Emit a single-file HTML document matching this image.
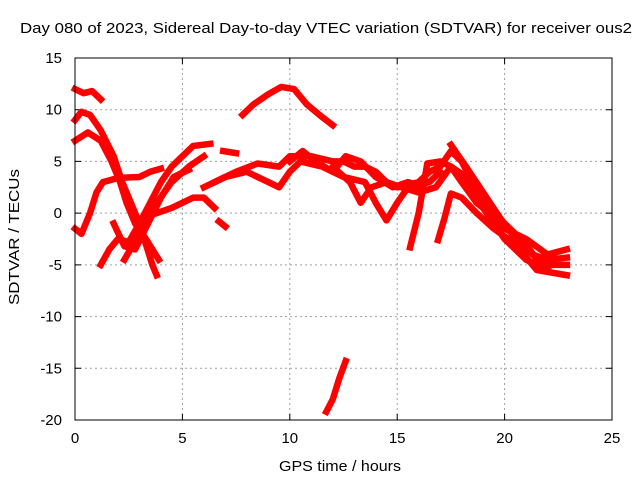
<!DOCTYPE html>
<html><head><meta charset="utf-8"><style>
body{margin:0;background:#fff}
svg{display:block;font-family:"Liberation Sans",sans-serif}
</style></head><body>
<svg id="chart" width="640" height="480" viewBox="0 0 640 480">
<rect width="640" height="480" fill="#fff"/>
<text x="326" y="33" text-anchor="middle" font-size="15" textLength="612" lengthAdjust="spacingAndGlyphs">Day 080 of 2023, Sidereal Day-to-day VTEC variation (SDTVAR) for receiver ous2</text>
<text x="340" y="471" text-anchor="middle" font-size="15" textLength="122" lengthAdjust="spacingAndGlyphs">GPS time / hours</text>
<text transform="translate(19,237) rotate(-90)" text-anchor="middle" font-size="15" textLength="136" lengthAdjust="spacingAndGlyphs">SDTVAR / TECUs</text>
<g id="grid"></g>
<g id="ticks"></g>
<g id="series"></g>
<rect x="75" y="58" width="537" height="362" fill="none" stroke="#000" stroke-width="1"/>
</svg>
<script>
const xTicks=[0,5,10,15,20,25];
const yTicks=[15,10,5,0,-5,-10,-15,-20];
const track1=[[0,12],[0.4,11.6],[0.8,11.8],[1.2,11]];
const track2=[[0,9],[0.3,9.8],[0.7,9.5],[1.2,8],[1.8,5.5],[2.2,3],[2.6,1],[3.0,-1],[3.3,-3],[3.6,-5],[3.8,-6]];
const track3=[[0,7],[0.6,7.8],[1.2,7],[1.7,5],[2.1,3],[2.4,1],[2.8,-1],[3.3,-2.5],[3.9,-4.5]];
const track4=[[0,-1.5],[0.3,-2],[0.7,0],[1,2],[1.3,3],[2,3.4],[3,3.5],[3.5,4],[4,4.3]];
const track5=[[1.2,-5],[1.6,-3.5],[2,-2.5],[2.5,-2.8],[3,-1],[3.5,1],[4,3],[4.5,4.5],[5,5.5],[5.5,6.5],[6.3,6.7]];
const track6=[[2.3,-4.5],[3,-2],[3.8,1],[4.5,3],[5.3,4.5],[6,5.5]];
const track7=[[1.8,-1],[2.3,-3.2],[2.8,-3.5],[3.4,-1],[4,1.5],[4.6,3.5],[5.3,4.2]];
const track8=[[3.8,0],[4.5,0.5],[5,1],[5.5,1.5],[6,1.5],[6.5,0.5]];
const track9=[[6.7,-0.8],[7,-1.3]];
const track10=[[6.9,6],[7.5,5.8]];
const track11=[[7.8,9.5],[8.3,10.5],[9,11.5],[9.6,12.2],[10.2,12],[10.8,10.5],[11.5,9.3],[12,8.5]];
const track12=[[11.7,-19.2],[12,-18],[12.3,-16],[12.6,-14.3]];
const track13=[[6.5,3],[7.5,4],[8.5,4.8],[9.5,4.5],[10,5.5],[11,5.5],[12,5],[12.5,5],[13,4.5],[13.5,4.5],[14,4],[14.5,3],[15,2.5],[16,3],[16.5,4],[17,4.5],[17.5,6],[18,5],[18.5,3],[19,1.5],[19.5,0],[20,-1],[20.5,-2],[21,-3],[21.5,-4.5],[22,-5],[22.9,-5]];
const track14=[[6,2.5],[7,3.5],[8,4],[9,3],[9.5,2.5],[10,4],[10.5,5],[11.5,4.5],[12.5,3.5],[13.5,3],[14,1],[14.5,-0.7],[15,1],[15.5,2.5],[16.5,3],[17,4]];
const track15=[[15.6,-3.3],[16,0],[16.4,4.8],[17,5],[17.5,4.5],[18,3],[18.7,1],[19.3,0],[20,-1.5],[21,-2.5],[22,-4],[22.9,-3.5]];
const track16=[[16.9,-2.6],[17.2,-0.5],[17.5,1.9],[18,1.5],[18.7,0],[19.5,-1.5],[20.5,-3],[21.5,-5.5],[22.9,-6]];
const track17=[[17.5,6.6],[18.2,4.5],[19,2],[19.8,-0.5],[20.5,-2.5],[21.3,-4],[22,-4.5],[22.9,-4.3]];
const track18=[[12,4.5],[12.8,3],[13.3,1],[13.8,2.5],[14.5,3],[15.2,2.5],[16,2],[16.8,2.5],[17.5,4.5],[18.2,3.5],[19,0.5],[20,-2.5],[21,-4.5],[22,-5.5]];
const track19=[[10,5],[10.6,6],[11.2,5],[12,4],[12.6,5.5],[13.3,5],[14,3.5],[14.8,2.5],[15.5,3],[16.2,2.5]];
const tracks=[track1,track2,track3,track4,track5,track6,track7,track8,track9,track10,track11,track12,track13,track14,track15,track16,track17,track18,track19];
const NS='http://www.w3.org/2000/svg';
const X0=75,X1=612,Y0=420,Y1=58;
function sx(t){return X0+(t-0)/(25-0)*(X1-X0);}
function sy(v){return Y0-(v-(-20))/(15-(-20))*(Y0-Y1);}
const grid=document.getElementById('grid'),ticks=document.getElementById('ticks'),series=document.getElementById('series');
function mk(tag,attrs,parent){const e=document.createElementNS(NS,tag);for(const k in attrs)e.setAttribute(k,attrs[k]);parent.appendChild(e);return e;}
xTicks.forEach(t=>{const x=sx(t);
 if(t>0&&t<25){const g=mk('line',{x1:x,x2:x,y1:Y1,y2:Y0,stroke:'#a0a0a0','stroke-dasharray':'2,3'},grid);}
 const tk=mk('path',{d:`M${x},${Y0}v-6M${x},${Y1}v6`,stroke:'#000'},ticks);
 const l=mk('text',{x:x,y:443,'text-anchor':'middle','font-size':'15'},ticks);l.textContent=t;});
yTicks.forEach(v=>{const y=sy(v);
 if(v>-20&&v<15){const g=mk('line',{x1:X0,x2:X1,y1:y,y2:y,stroke:'#a0a0a0','stroke-dasharray':'2,3'},grid);}
 const tk=mk('path',{d:`M${X0},${y}h6M${X1},${y}h-6`,stroke:'#000'},ticks);
 const l=mk('text',{x:62,y:y+5,'text-anchor':'end','font-size':'15'},ticks);l.textContent=v;});
tracks.forEach(tr=>{const p=mk('polyline',{points:tr.map(d=>sx(d[0])+','+sy(d[1])).join(' '),fill:'none',stroke:'#f00','stroke-width':'6.5','stroke-linejoin':'round','stroke-linecap':'square'},series);
 
 });
</script>
</body></html>
